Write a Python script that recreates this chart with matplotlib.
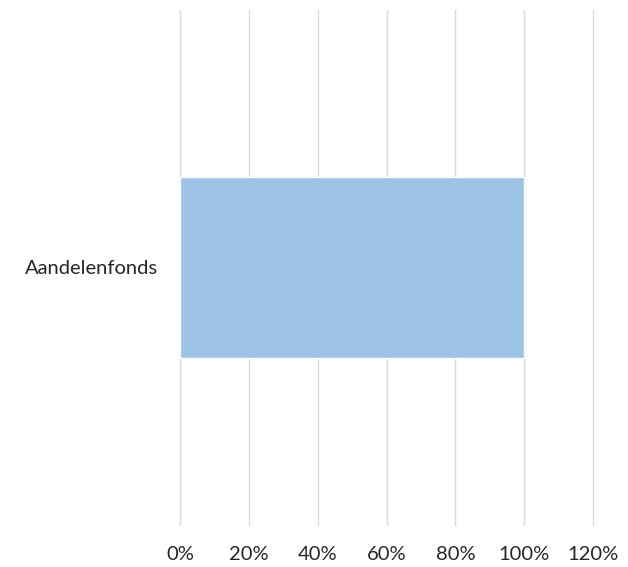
import matplotlib
matplotlib.use('Agg')
import matplotlib.pyplot as plt
from matplotlib.ticker import FuncFormatter

# data
categories = ['Aandelenfonds']
values = [1.0]
x_ticks = [0, 0.2, 0.4, 0.6, 0.8, 1.0, 1.2]

plt.rcParams['font.family'] = ['Lato', 'DejaVu Sans']

fig = plt.figure(figsize=(6.28, 5.67), dpi=100)
ax = fig.add_axes([180 / 628, 1 - 525 / 567, 413 / 628, 515 / 567])

ax.barh(categories, values, height=0.35, color='#9DC3E6',
        edgecolor='white', linewidth=1.0, zorder=3)

ax.set_xlim(0, 1.2)
ax.set_ylim(-0.5, 0.5)
ax.set_xticks(x_ticks)
ax.xaxis.set_major_formatter(FuncFormatter(lambda v, p: f"{v * 100:.0f}%"))
ax.grid(axis='x', color='#D9D9D9', linewidth=1.0, zorder=0)
ax.grid(axis='y', visible=False)
for gl in ax.get_xgridlines():
    gl.set_clip_on(False)

for s in ax.spines.values():
    s.set_visible(False)

ax.tick_params(axis='x', length=0, pad=15, labelsize=14.5, labelcolor='#262626')
ax.tick_params(axis='y', length=0, pad=16, labelsize=14.5, labelcolor='#262626')

fig.savefig('out.png', dpi=100)
